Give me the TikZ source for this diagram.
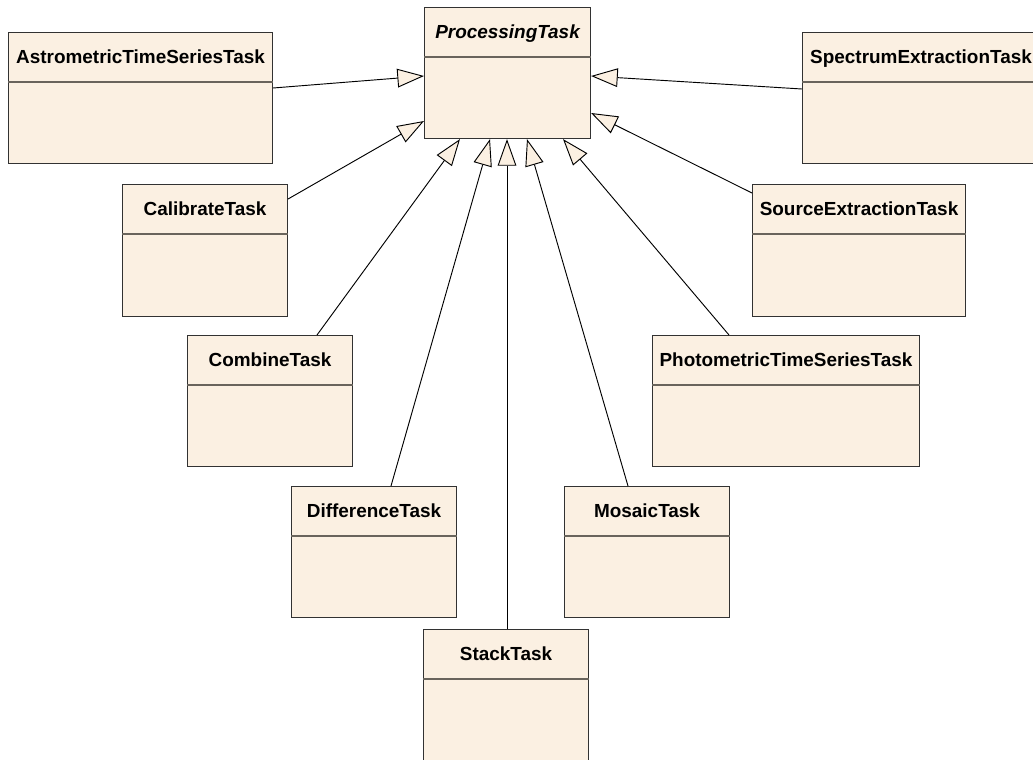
\documentclass[tikz,border=0pt]{standalone}
\usepackage{fontspec}
\setmainfont{Liberation Sans}
\usetikzlibrary{arrows.meta,calc}
\definecolor{clsfill}{RGB}{251,240,226}
\definecolor{clsdraw}{RGB}{50,50,50}
\definecolor{sepcol}{RGB}{105,100,92}
\tikzset{
  cls/.style={draw=clsdraw, fill=clsfill, line width=0.8pt, rectangle, inner sep=0pt},
  clstitle/.style={anchor=base, inner sep=0pt, font=\fontsize{14.2}{17}\selectfont\bfseries},
  septline/.style={draw=sepcol, line width=0.8pt},
  inherit/.style={draw=black, line width=0.7pt, -{Triangle[length=20pt,width=14pt,fill=clsfill]}}
}
\newcommand{\classbox}[6]{%
  \node[cls, minimum width=#4*0.75pt, minimum height=#5*0.75pt, anchor=north west] (#1) at (#2,#3) {};
  \node[clstitle] (#1-t) at ($(#1.north)+(0,31)$) {#6};
  \draw[septline] ($(#1.north west)+(0,50)$) -- ($(#1.north east)+(0,50)$);
}
\begin{document}
\begin{tikzpicture}[x=0.75pt,y=-0.75pt]
\clip (0,0) rectangle (1033,760);
\fill[white] (0,0) rectangle (1033,760);
\classbox{proc}{424}{7}{166}{131}{\itshape ProcessingTask}
\classbox{astro}{8}{32}{264}{131}{AstrometricTimeSeriesTask}
\classbox{spec}{802}{32}{237}{131}{SpectrumExtractionTask}
\classbox{calib}{122}{184}{165}{132}{CalibrateTask}
\classbox{source}{752}{184}{213}{132}{SourceExtractionTask}
\classbox{combine}{187}{335}{165}{131}{CombineTask}
\classbox{photo}{652}{335}{267}{131}{PhotometricTimeSeriesTask}
\classbox{diff}{291}{486}{165}{131}{DifferenceTask}
\classbox{mosaic}{564}{486}{165}{131}{MosaicTask}
\classbox{stack}{423}{629}{165}{140}{StackTask}
% generalisations
\draw[inherit] ($(astro.north east)+(0,56)$) -- ($(proc.north west)+(0,69)$);
\draw[inherit] ($(spec.north west)+(0,57)$) -- ($(proc.north east)+(0,69)$);
\draw[inherit] ($(calib.north east)+(0,15)$) -- ($(proc.north west)+(0,114)$);
\draw[inherit] ($(source.north west)+(0,9)$) -- ($(proc.north east)+(0,106)$);
\draw[inherit] ($(combine.north west)+(130,0)$) -- ($(proc.south west)+(36,0)$);
\draw[inherit] ($(photo.north west)+(77,0)$) -- ($(proc.south west)+(139,0)$);
\draw[inherit] ($(diff.north west)+(100,0)$) -- ($(proc.south west)+(66,0)$);
\draw[inherit] ($(mosaic.north west)+(64,0)$) -- ($(proc.south west)+(103,0)$);
\draw[inherit] ($(stack.north west)+(84,0)$) -- ($(proc.south west)+(83,0)$);
\end{tikzpicture}
\end{document}
